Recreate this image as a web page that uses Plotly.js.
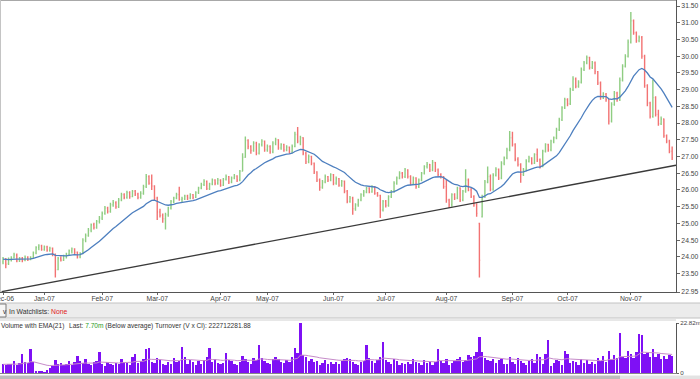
<!DOCTYPE html>
<html>
<head>
<meta charset="utf-8">
<script src="https://cdn.plot.ly/plotly-3.0.1.min.js"></script>
<style>
html,body{margin:0;padding:0;background:#fff;}
#chart{width:700px;height:379px;}
</style>
</head>
<body>
<div id="chart"></div>
<script>
// ---- Data (trading-day index) ----
const monthIdx = [0, 15, 36, 56, 79, 96, 120, 139, 161, 185, 205, 228];
const monthLabels = ["Dec-06","Jan-07","Feb-07","Mar-07","Apr-07","May-07","Jun-07","Jul-07","Aug-07","Sep-07","Oct-07","Nov-07"];

const openP = [
23.85,23.92,23.80,23.92,23.98,24.05,23.88,23.96,23.90,23.99,
23.92,23.98,24.12,24.28,24.33,24.22,24.30,24.20,24.26,24.08,
23.62,23.95,23.90,24.02,24.08,24.18,24.24,24.14,24.00,24.10,
24.50,24.64,24.80,24.96,24.88,25.06,25.16,25.30,25.46,25.36,
25.56,25.62,25.50,25.70,25.86,25.78,25.92,25.80,25.96,25.88,
25.78,25.90,26.10,26.40,26.20,26.12,25.76,25.34,25.24,25.14,
25.26,25.46,25.66,25.76,25.86,25.72,25.74,25.82,25.76,25.86,
25.78,25.92,26.06,26.16,26.26,26.04,26.18,26.30,26.20,26.30,
26.14,26.32,26.40,26.24,26.36,26.42,26.30,26.56,26.98,27.48,
27.30,27.18,27.40,27.10,27.36,27.46,27.20,27.30,27.14,27.40,
27.50,27.26,27.36,27.20,27.28,27.14,27.30,27.66,27.46,27.56,
27.10,26.84,27.00,26.80,26.54,26.30,26.08,26.24,26.40,26.30,
26.46,26.20,26.34,26.14,26.26,25.96,25.66,25.76,25.44,25.56,
25.70,25.86,25.94,26.06,25.94,26.10,25.90,25.84,25.40,25.66,
25.54,25.80,25.96,26.20,26.36,26.50,26.40,26.60,26.40,26.20,
26.36,26.10,26.30,26.50,26.70,26.76,26.60,26.82,26.60,26.46,
26.40,26.10,25.70,25.56,25.86,25.76,26.06,25.70,25.96,26.30,
26.00,25.80,25.56,25.00,25.20,25.80,26.24,26.40,26.02,26.44,
26.62,26.36,26.80,26.96,27.20,27.56,27.36,26.92,26.76,26.46,
26.60,26.86,26.96,26.80,27.06,26.90,26.70,27.16,27.36,27.20,
27.46,27.56,27.80,28.10,28.46,28.70,28.58,29.00,29.32,29.10,
29.22,29.60,29.80,29.96,29.66,29.80,29.54,29.20,28.76,28.86,
28.70,28.06,28.56,28.90,28.70,29.28,29.70,30.00,30.42,31.06,
30.70,30.46,30.56,30.00,29.12,28.60,28.20,28.76,28.26,27.98,
28.12,27.62,27.46,27.16];

const highP = [
24.00,23.97,23.98,24.02,24.12,24.10,24.00,24.00,24.04,24.02,
24.02,24.16,24.32,24.38,24.36,24.34,24.33,24.30,24.28,24.10,
24.00,24.02,24.06,24.12,24.22,24.28,24.26,24.16,24.14,24.56,
24.70,24.86,25.00,25.02,25.10,25.22,25.36,25.52,25.50,25.62,
25.70,25.66,25.76,25.92,25.90,25.98,25.96,26.00,26.00,25.92,
25.96,26.16,26.48,26.44,26.46,26.14,25.80,25.44,25.30,25.32,
25.50,25.70,25.80,25.92,26.10,25.80,25.86,25.86,25.90,25.88,
25.96,26.10,26.22,26.32,26.28,26.22,26.34,26.32,26.36,26.32,
26.36,26.46,26.42,26.40,26.48,26.44,26.60,27.10,27.60,27.52,
27.34,27.46,27.44,27.40,27.52,27.48,27.36,27.34,27.46,27.56,
27.52,27.40,27.38,27.34,27.30,27.36,27.74,27.88,27.62,27.58,
27.14,27.06,27.02,26.82,26.56,26.34,26.30,26.46,26.42,26.50,
26.48,26.40,26.36,26.30,26.28,26.00,25.82,25.80,25.60,25.74,
25.90,26.00,26.10,26.08,26.14,26.12,25.94,25.86,25.70,25.70,
25.84,26.00,26.26,26.40,26.56,26.54,26.66,26.62,26.44,26.40,
26.38,26.34,26.54,26.74,26.84,26.78,26.90,26.84,26.64,26.50,
26.42,26.30,25.74,25.90,25.90,26.10,26.08,26.00,26.62,26.34,
26.06,25.84,25.60,25.02,25.86,26.30,26.70,26.46,26.50,26.68,
26.64,26.86,27.00,27.26,27.76,27.74,27.40,26.98,26.80,26.66,
26.92,27.02,26.98,27.10,27.24,26.94,27.20,27.40,27.38,27.50,
27.60,27.86,28.16,28.50,28.76,28.74,29.06,29.40,29.36,29.28,
29.66,29.86,30.02,29.98,29.86,29.84,29.56,29.24,28.92,28.90,
28.72,28.62,28.96,28.94,29.36,29.76,30.06,30.50,31.32,31.10,
30.74,30.62,30.60,30.04,29.16,28.64,29.30,28.80,28.40,28.20,
28.14,27.66,27.50,27.30];

const lowP = [
23.78,23.66,23.76,23.86,23.95,23.84,23.85,23.84,23.87,23.88,
23.90,23.96,24.08,24.20,24.18,24.18,24.15,24.15,24.02,23.38,
23.60,23.86,23.88,23.95,24.04,24.10,24.08,23.95,23.96,24.08,
24.44,24.60,24.74,24.82,24.84,25.00,25.10,25.26,25.30,25.32,
25.50,25.44,25.46,25.66,25.72,25.74,25.74,25.78,25.82,25.72,
25.74,25.86,26.06,26.16,26.00,25.70,25.10,25.18,25.02,24.82,
25.20,25.42,25.60,25.72,25.68,25.62,25.70,25.70,25.72,25.72,
25.76,25.88,26.02,26.12,26.00,26.00,26.14,26.14,26.16,26.10,
26.12,26.28,26.18,26.20,26.32,26.24,26.26,26.56,26.96,27.22,
27.08,27.14,27.04,27.06,27.30,27.14,27.14,27.08,27.10,27.34,
27.20,27.20,27.14,27.16,27.08,27.10,27.28,27.40,27.34,27.04,
26.78,26.80,26.74,26.48,26.24,25.98,26.04,26.20,26.24,26.26,
26.14,26.16,26.10,26.10,25.90,25.60,25.62,25.26,25.38,25.50,
25.66,25.80,25.90,25.90,25.92,25.86,25.80,25.16,25.36,25.48,
25.50,25.76,25.92,26.16,26.32,26.34,26.36,26.34,26.14,26.16,
26.04,26.06,26.26,26.46,26.64,26.54,26.56,26.54,26.40,26.34,
26.04,25.62,25.46,25.50,25.70,25.72,25.64,25.66,25.92,25.96,
25.76,25.50,25.20,23.38,25.18,25.76,26.20,25.96,25.98,26.40,
26.30,26.32,26.74,26.92,27.16,27.30,26.86,26.70,26.22,26.42,
26.56,26.82,26.76,26.78,26.84,26.64,26.68,27.12,27.14,27.16,
27.40,27.52,27.76,28.06,28.42,28.50,28.54,28.96,29.04,29.06,
29.18,29.56,29.76,29.60,29.62,29.46,29.14,28.70,28.72,28.64,
27.96,28.02,28.52,28.64,28.66,29.24,29.66,29.96,30.38,30.64,
30.40,30.42,29.92,29.06,28.50,28.14,28.16,28.20,27.92,27.94,
27.56,27.40,27.10,26.90];

const closeP = [
23.92,23.78,23.94,23.97,24.06,23.88,23.96,23.90,23.99,23.92,
23.98,24.12,24.28,24.33,24.22,24.30,24.20,24.26,24.08,23.62,
23.95,23.90,24.02,24.08,24.18,24.24,24.14,24.00,24.10,24.50,
24.64,24.80,24.96,24.88,25.06,25.16,25.30,25.46,25.36,25.56,
25.62,25.50,25.70,25.86,25.78,25.92,25.80,25.96,25.88,25.78,
25.90,26.10,26.40,26.20,26.12,25.76,25.34,25.24,25.14,25.26,
25.46,25.66,25.76,25.86,25.72,25.74,25.82,25.76,25.86,25.78,
25.92,26.06,26.16,26.26,26.04,26.18,26.30,26.20,26.30,26.14,
26.32,26.40,26.24,26.36,26.42,26.30,26.56,26.98,27.48,27.30,
27.18,27.40,27.10,27.36,27.46,27.20,27.30,27.14,27.40,27.50,
27.26,27.36,27.20,27.28,27.14,27.30,27.66,27.46,27.56,27.10,
26.84,27.00,26.80,26.54,26.30,26.08,26.24,26.40,26.30,26.46,
26.20,26.34,26.14,26.26,25.96,25.66,25.76,25.44,25.56,25.70,
25.86,25.94,26.06,25.94,26.10,25.90,25.84,25.40,25.66,25.54,
25.80,25.96,26.20,26.36,26.50,26.40,26.60,26.40,26.20,26.36,
26.10,26.30,26.50,26.70,26.76,26.60,26.82,26.60,26.46,26.40,
26.10,25.70,25.56,25.86,25.76,26.06,25.70,25.96,26.30,26.00,
25.80,25.56,25.30,23.90,25.80,26.24,26.40,26.02,26.44,26.62,
26.36,26.80,26.96,27.20,27.56,27.36,26.92,26.76,26.46,26.60,
26.86,26.96,26.80,27.06,26.90,26.70,27.16,27.36,27.20,27.46,
27.56,27.80,28.10,28.46,28.70,28.58,29.00,29.32,29.10,29.22,
29.60,29.80,29.96,29.66,29.80,29.54,29.20,28.76,28.86,28.70,
28.06,28.56,28.90,28.70,29.28,29.70,30.00,30.42,31.06,30.70,
30.46,30.56,30.00,29.12,28.60,28.20,28.76,28.26,27.98,28.12,
27.62,27.46,27.16,26.96];

// volume in millions
const volumeM = [
3.9,3.5,4.0,4.3,5.4,3.8,4.6,8.5,5.2,4.4,
11.0,5.0,0.8,0.7,0.9,0.6,1.2,2.3,3.4,5.8,
3.9,4.6,3.5,4.3,5.4,3.5,4.8,7.6,5.6,4.5,
6.2,4.0,3.7,4.8,5.3,9.6,4.1,3.3,5.0,4.2,
3.6,4.4,3.9,6.4,5.1,4.7,3.8,7.5,8.8,4.6,
5.5,6.3,10.9,11.2,5.2,4.4,7.0,6.0,4.0,3.6,
5.2,4.3,6.8,4.9,5.7,12.0,7.4,4.2,5.8,4.8,
3.8,5.3,4.0,6.1,7.2,11.6,5.0,6.4,4.5,3.9,
4.7,9.3,6.0,5.5,4.1,3.6,4.9,7.8,6.6,5.0,
4.3,6.9,5.8,13.0,7.0,5.4,4.4,3.9,6.5,7.2,
6.3,5.0,4.4,5.9,4.8,7.4,11.6,9.0,22.8,8.4,
7.1,5.6,6.3,4.9,5.3,3.7,4.6,6.0,4.0,5.1,
3.9,4.8,4.3,5.6,6.2,7.0,6.2,5.1,4.2,3.5,
4.8,5.6,13.0,6.8,5.5,4.4,6.0,7.3,14.0,6.1,
5.0,4.1,6.2,5.5,3.5,4.6,3.9,5.2,4.0,6.4,
5.0,4.7,3.8,5.9,4.5,5.0,3.6,4.9,10.9,5.6,
4.6,6.2,3.8,4.5,5.7,6.6,7.4,5.0,6.0,8.0,
7.2,7.9,9.5,16.6,9.6,7.0,6.1,5.4,6.3,4.6,
5.8,6.6,4.2,3.9,7.5,5.0,4.1,6.9,5.3,4.4,
3.8,5.7,6.4,4.6,8.5,7.2,4.0,8.6,15.2,3.1,
4.5,6.0,5.3,3.6,10.0,8.5,4.4,5.5,4.9,3.8,
6.2,4.6,5.8,3.9,5.0,4.3,6.8,5.6,7.6,4.8,
10.0,6.0,8.3,6.7,18.3,7.5,7.0,10.0,8.8,6.9,
9.5,17.8,17.4,8.7,9.2,7.4,11.0,7.1,8.5,6.6,
7.9,6.4,8.1,7.7];

// trend line end points (index, price)
const trendX = [-0.5, 244.4];
const trendY = [22.96, 26.74];

const priceTicks = [22.95,23.5,24,24.5,25,25.5,26,26.5,27,27.5,28,28.5,29,29.5,30,30.5,31,31.5];
const volTicks = [0, 22.82];
const volTickText = ["0", "22.82m"];

// ---- Derived series ----
const idx = closeP.map((_, i) => i);
function ema(arr, n, seedLen) {
  const a = 2 / (n + 1);
  let seed = 0; const m = Math.min(seedLen, arr.length);
  for (let k = 0; k < m; k++) seed += arr[k];
  let e = seed / m;
  return arr.map(v => (e = a * v + (1 - a) * e));
}
const maLine = ema(closeP, 21, 10);
const volEma = ema(volumeM, 21, 21);

// ---- Geometry helpers (paper coords) ----
const W = 676, H = 379;
const px = x => x / W;
const py = y => 1 - y / H;

const fontFam = "Liberation Sans, Arial, sans-serif";

const traces = [
  {
    type: 'ohlc', x: idx, open: openP, high: highP, low: lowP, close: closeP,
    xaxis: 'x', yaxis: 'y',
    increasing: { line: { color: '#8fcd82', width: 1.4 } },
    decreasing: { line: { color: '#f27373', width: 1.4 } },
    tickwidth: 0.3, hoverinfo: 'skip', showlegend: false
  },
  {
    type: 'scatter', mode: 'lines', x: idx, y: maLine, xaxis: 'x', yaxis: 'y',
    line: { color: '#4d7fbf', width: 1.3 }, hoverinfo: 'skip', showlegend: false
  },
  {
    type: 'scatter', mode: 'lines', x: trendX, y: trendY, xaxis: 'x', yaxis: 'y',
    line: { color: '#3a3a3a', width: 1.3 }, hoverinfo: 'skip', showlegend: false
  },
  {
    type: 'bar', x: idx, y: volumeM, xaxis: 'x2', yaxis: 'y2', width: 0.85,
    marker: { color: '#7f10f5', line: { width: 0 } }, hoverinfo: 'skip', showlegend: false
  },
  {
    type: 'scatter', mode: 'lines', x: idx, y: volEma, xaxis: 'x2', yaxis: 'y2',
    line: { color: '#c68bc9', width: 1 }, hoverinfo: 'skip', showlegend: false
  }
];

const xr = [-1.1, 244.4];
const layout = {
  width: 700, height: 379,
  margin: { l: 0, r: 24, t: 0, b: 0, pad: 0 },
  paper_bgcolor: '#ffffff', plot_bgcolor: '#ffffff',
  showlegend: false, hovermode: false, bargap: 0,
  font: { family: fontFam, size: 7, color: '#444' },
  xaxis: {
    domain: [0, 1], range: xr, anchor: 'y',
    tickmode: 'array', tickvals: monthIdx, ticktext: monthLabels,
    ticks: 'outside', ticklen: 2, tickcolor: '#666',
    ticklabeloverflow: 'allow', ticklabelstandoff: -2,
    showline: true, linecolor: '#555', linewidth: 1,
    showgrid: false, zeroline: false,
    tickfont: { family: fontFam, size: 6.8, color: '#444' },
    rangeslider: { visible: false }, fixedrange: true
  },
  xaxis2: {
    domain: [0, 1], range: xr, anchor: 'y2', matches: 'x',
    showticklabels: false, ticks: '', showline: true, linecolor: '#888',
    showgrid: false, zeroline: false, fixedrange: true,
    rangeslider: { visible: false }
  },
  yaxis: {
    domain: [py(292), 1], range: [22.95, 31.68], side: 'right', anchor: 'x',
    tickmode: 'array', tickvals: priceTicks, ticktext: priceTicks.map(v => v.toFixed(2)),
    ticks: 'outside', ticklen: 3, tickcolor: '#666',
    showline: true, linecolor: '#555', linewidth: 1,
    showgrid: false, zeroline: false,
    tickfont: { family: fontFam, size: 6.8, color: '#444' }, fixedrange: true
  },
  yaxis2: {
    domain: [py(373), py(323)], range: [0, 22.82], side: 'right', anchor: 'x2',
    tickmode: 'array', tickvals: volTicks, ticktext: volTickText,
    ticks: 'outside', ticklen: 2, tickcolor: '#666',
    showline: true, linecolor: '#555', linewidth: 1,
    showgrid: false, zeroline: false,
    tickfont: { family: fontFam, size: 6.2, color: '#444' }, fixedrange: true
  },
  shapes: [
    { type: 'line', xref: 'paper', yref: 'paper', x0: 0, x1: 1, y0: py(0.5), y1: py(0.5), line: { color: '#a8a8a8', width: 1 } },
    { type: 'line', xref: 'paper', yref: 'paper', x0: px(0.5), x1: px(0.5), y0: py(292), y1: 1, line: { color: '#c4c4c4', width: 1 } },
    { type: 'rect', xref: 'paper', yref: 'paper', x0: px(-1), x1: px(701), y0: py(318), y1: py(303), fillcolor: '#ececec', line: { color: '#c2c2c2', width: 1 } },
    { type: 'rect', xref: 'paper', yref: 'paper', x0: px(-1), x1: px(6), y0: py(317), y1: py(304), fillcolor: '#f6f6f6', line: { color: '#7a7a7a', width: 1 } },
    { type: 'line', xref: 'paper', yref: 'paper', x0: 0, x1: 1, y0: py(320), y1: py(320), line: { color: '#d0d0d0', width: 1 } },
    { type: 'rect', xref: 'paper', yref: 'paper', x0: px(-1), x1: px(620), y0: py(379.5), y1: py(375.5), fillcolor: '#bdbdbd', line: { width: 0 } },
    { type: 'rect', xref: 'paper', yref: 'paper', x0: px(620), x1: px(701), y0: py(379.5), y1: py(375.5), fillcolor: '#e3e3e3', line: { width: 0 } }
  ],
  annotations: [
    { xref: 'paper', yref: 'paper', x: px(0.5), y: py(311), xanchor: 'left', yanchor: 'middle', showarrow: false,
      text: 'v', font: { family: fontFam, size: 6.5, color: '#333' } },
    { xref: 'paper', yref: 'paper', x: px(7), y: py(311), xanchor: 'left', yanchor: 'middle', showarrow: false,
      text: 'In Watchlists: <span style="color:#e02020">None</span>', font: { family: fontFam, size: 6.8, color: '#333' } },
    { xref: 'paper', yref: 'paper', x: px(-1.5), y: py(325.5), xanchor: 'left', yanchor: 'middle', showarrow: false,
      text: 'Volume with EMA(21)', font: { family: fontFam, size: 6.6, color: '#333' } },
    { xref: 'paper', yref: 'paper', x: px(67), y: py(325.5), xanchor: 'left', yanchor: 'middle', showarrow: false,
      text: 'Last: <span style="color:#1f9a1f">7.70m</span> (Below average)', font: { family: fontFam, size: 6.6, color: '#333' } },
    { xref: 'paper', yref: 'paper', x: px(153), y: py(325.5), xanchor: 'left', yanchor: 'middle', showarrow: false,
      text: 'Turnover (V x Cl): 222712281.88', font: { family: fontFam, size: 6.6, color: '#333' } }
  ]
};

Plotly.newPlot('chart', traces, layout, { displayModeBar: false, staticPlot: true });
</script>
</body>
</html>
